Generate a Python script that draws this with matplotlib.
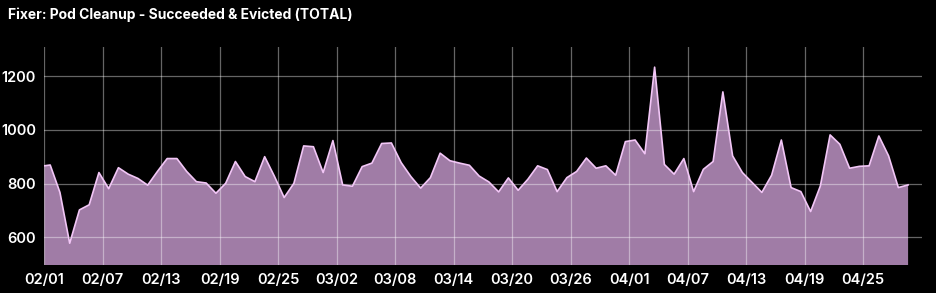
import numpy as np
import pandas as pd
import matplotlib
matplotlib.use("Agg")
import matplotlib.pyplot as plt
import matplotlib.dates as mdates

title = "Fixer: Pod Cleanup - Succeeded & Evicted (TOTAL)"

# first sample sits on the left edge of the window, the rest are daily
times = [pd.Timestamp("2024-02-01 00:00")] + list(
    pd.date_range("2024-02-01 14:30", periods=89, freq="D"))
values = [866,
          869, 767, 578, 702, 721, 841, 781, 859, 835, 819,
          794, 845, 893, 893, 845, 807, 802, 764, 801, 882,
          826, 807, 900, 827, 748, 801, 940, 937, 841, 960,
          795, 790, 863, 876, 949, 951, 878, 826, 783, 822,
          913, 885, 876, 868, 828, 806, 769, 821, 775, 816,
          866, 852, 770, 822, 845, 895, 857, 866, 831, 956,
          962, 911, 1233, 871, 835, 893, 770, 853, 882, 1141,
          903, 841, 804, 767, 831, 962, 785, 770, 696, 791,
          981, 946, 857, 864, 866, 977, 903, 785, 795]

tick_dates = pd.date_range("2024-02-01", "2024-04-25", freq="6D")
y_ticks = [600, 800, 1000, 1200]

plt.rcParams['font.family'] = ['Inter', 'DejaVu Sans']

fig = plt.figure(figsize=(9.37, 2.93), dpi=100, facecolor='black')
ax = fig.add_axes([44.3 / 937, 1 - 265 / 293, (921.7 - 44.3) / 937, (265 - 47) / 293])
ax.set_facecolor('black')

ax.fill_between(times, values, 0, color='#a07ca6', lw=0, zorder=1)
ax.plot(times, values, color='#f2c6f6', lw=1.2, zorder=3)

ax.set_xlim(pd.Timestamp("2024-02-01"), pd.Timestamp("2024-05-01"))
ax.set_ylim(497, 1308)
ax.set_xticks(tick_dates)
ax.xaxis.set_major_formatter(mdates.DateFormatter("%m/%d"))
ax.set_yticks(y_ticks)

ax.grid(True, color='white', alpha=0.4, lw=0.9, zorder=2)
ax.set_axisbelow(False)
for s in ax.spines.values():
    s.set_visible(False)
ax.tick_params(length=0, colors='white', labelsize=10.5, pad=6)
for lbl in ax.get_xticklabels() + ax.get_yticklabels():
    lbl.set_fontweight('semibold')

fig.text(8 / 937, 1 - 15 / 293, title, color='white', fontsize=10,
         fontweight='bold', va='center', ha='left')

fig.savefig("out.png", dpi=100, facecolor='black')
